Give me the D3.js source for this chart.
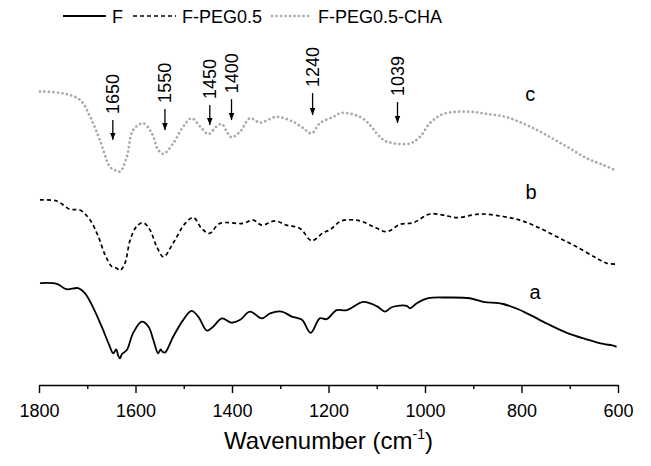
<!DOCTYPE html>
<html>
<head>
<meta charset="utf-8">
<script src="https://cdn.jsdelivr.net/npm/d3@7"></script>
<style>
  body { margin: 0; background: #fff; }
  text { font-family: "Liberation Sans", Arial, sans-serif; fill: #000; }
</style>
</head>
<body>
<script>
const w = 651;
const h = 466;

// spectra (wavenumber, transmittance in arbitrary units, curves offset)
const wnA = [1798,1763,1743,1719,1705,1687,1670,1656,1646,1640,1636,1632,1628,1618,1605,1587,1573,1563,1553,1548,1545,1539,1522,1501,1484,1470,1452,1439,1421,1401,1383,1363,1338,1321,1297,1276,1255,1237,1218,1204,1183,1162,1128,1100,1083,1069,1038,1031,1017,993,955,907,879,838,796,748,706,665,630,612,603];
const valA = [28.3,28.1,26.6,26.9,25.5,21.3,16.2,11.6,8.8,9.9,8.2,7.4,8.6,9.7,14.4,17.6,16.2,12.5,8.8,9.9,9.4,9.0,13.4,18.1,20.6,19.0,15.1,16.2,18.5,17.3,18.1,20.4,18.5,19.9,20.4,19.0,18.1,14.5,18.5,18.3,20.8,20.8,23.1,21.9,20.4,21.6,22.0,21.3,22.7,24.1,24.3,24.1,23.1,22.5,20.4,17.1,14.5,12.7,11.4,11.0,10.6];

const wnB = [1798,1763,1736,1715,1694,1677,1663,1649,1640,1632,1622,1611,1598,1584,1570,1556,1542,1522,1497,1480,1463,1447,1425,1377,1356,1338,1311,1287,1259,1235,1211,1197,1173,1135,1107,1079,1052,1024,990,962,934,886,838,803,769,727,686,644,623,603];
const valB = [51.4,51.1,48.8,48.6,45.8,41.2,36.1,32.9,32.5,31.8,33.8,40.3,44.0,45.1,43.1,38.4,35.6,39.4,44.9,46.5,43.5,42.1,44.9,44.9,45.8,44.4,45.6,44.4,43.5,40.1,42.3,43.1,45.6,45.6,44.0,42.6,44.6,45.1,47.5,47.2,46.5,47.5,46.8,45.8,44.0,41.2,38.4,35.2,33.8,33.6];

const wnC = [1798,1750,1715,1694,1674,1653,1643,1632,1618,1605,1584,1566,1553,1542,1522,1501,1484,1466,1449,1432,1421,1411,1401,1383,1363,1342,1307,1273,1252,1235,1218,1190,1173,1135,1114,1097,1079,1031,1010,990,962,907,872,831,789,748,706,665,630,606];
const valC = [81.5,81.0,79.2,74.5,68.1,60.6,59.7,59.3,63.4,70.8,72.7,69.9,65.3,64.2,67.1,71.8,74.1,71.8,69.7,71.8,72.5,70.4,68.8,70.4,74.1,72.9,74.5,73.1,71.3,69.9,72.7,74.5,75.6,74.5,72.2,69.4,67.6,67.1,69.0,72.7,75.3,75.9,75.3,74.4,72.2,69.4,66.2,63.0,61.1,59.7];

const seriesNames = ["F", "F-PEG0.5", "F-PEG0.5-CHA"];
const curveTags = ["a", "b", "c"];

// peak annotations on curve c
const peakLabels = ["1650", "1550", "1450", "1400", "1240", "1039"];
const peakWn = [1647, 1539, 1446, 1401, 1233, 1057];
const arrowTop = [73.6, 76.7, 77.8, 79.4, 81.1, 78.6];
const arrowBottom = [68.1, 70.8, 72.2, 73.6, 75.0, 72.8];

const xTicks = [1800, 1700, 1600, 1500, 1400, 1300, 1200, 1100, 1000, 900, 800, 700, 600];

const x = d3.scaleLinear().domain([1800, 600]).range([39, 618]);
const y = d3.scaleLinear().domain([0, 100]).range([385, 25]);

const svg = d3.select("body").append("svg")
    .attr("width", w)
    .attr("height", h);

svg.append("defs").append("marker")
    .attr("id", "arrow")
    .attr("viewBox", "0 0 10 10")
    .attr("refX", 10)
    .attr("refY", 5)
    .attr("markerWidth", 7)
    .attr("markerHeight", 7)
    .attr("markerUnits", "userSpaceOnUse")
    .attr("orient", "auto")
    .append("path")
    .attr("d", "M0,1 L10,5 L0,9 Z")
    .attr("fill", "#000");

const styles = [
    { stroke: "#000", width: 1.8, dash: null, cap: "butt" },
    { stroke: "#000", width: 1.7, dash: "4,3", cap: "butt" },
    { stroke: "#aaa", width: 2.7, dash: "0.1,4.4", cap: "round" }
];

const data = [
    wnA.map((d, i) => [d, valA[i]]),
    wnB.map((d, i) => [d, valB[i]]),
    wnC.map((d, i) => [d, valC[i]])
];

const line = d3.line()
    .x(d => x(d[0]))
    .y(d => y(d[1]))
    .curve(d3.curveCatmullRom.alpha(0.5));

svg.append("g")
    .selectAll("path")
    .data(data)
    .enter()
    .append("path")
    .attr("d", line)
    .attr("fill", "none")
    .attr("stroke", (d, i) => styles[i].stroke)
    .attr("stroke-width", (d, i) => styles[i].width)
    .attr("stroke-dasharray", (d, i) => styles[i].dash)
    .attr("stroke-linecap", (d, i) => styles[i].cap)
    .attr("stroke-linejoin", "round");

// curve letters
const tagPos = [[772, 23.8], [780, 51.8], [782, 79.0]];
svg.append("g")
    .selectAll("text")
    .data(curveTags)
    .enter()
    .append("text")
    .attr("x", (d, i) => x(tagPos[i][0]))
    .attr("y", (d, i) => y(tagPos[i][1]))
    .attr("text-anchor", "middle")
    .attr("font-size", 20)
    .text(d => d);

// arrows + rotated labels
const ann = svg.append("g");
peakLabels.forEach((lab, i) => {
    const px = x(peakWn[i]);
    ann.append("line")
        .attr("x1", px).attr("x2", px)
        .attr("y1", y(arrowTop[i]))
        .attr("y2", y(arrowBottom[i]))
        .attr("stroke", "#000")
        .attr("stroke-width", 1.3)
        .attr("marker-end", "url(#arrow)");
    ann.append("text")
        .attr("transform", `translate(${px + 6.5}, ${y(arrowTop[i]) - 6}) rotate(-90)`)
        .attr("font-size", 18)
        .text(lab);
});

// x axis
const xAxis = d3.axisBottom(x)
    .tickValues(xTicks)
    .tickSizeOuter(0)
    .tickFormat(d => d % 200 === 0 ? d : "");

const gx = svg.append("g")
    .attr("transform", `translate(0, ${385})`)
    .call(xAxis);
gx.select(".domain").attr("stroke", "#000").attr("stroke-width", 1.6);
gx.selectAll(".tick line")
    .attr("stroke", "#000")
    .attr("stroke-width", 1.4)
    .attr("y2", d => d % 200 === 0 ? 8 : 4);
gx.selectAll(".tick text")
    .attr("dy", 0)
    .attr("y", 32)
    .attr("font-size", 18)
    .attr("font-family", "Liberation Sans, Arial, sans-serif")
    .attr("fill", "#000");

const title = svg.append("text")
    .attr("x", (39 + 618) / 2)
    .attr("y", 449)
    .attr("text-anchor", "middle")
    .attr("font-size", 24);
title.append("tspan").text("Wavenumber (cm");
title.append("tspan").attr("font-size", 14).attr("dy", -10).text("-1");
title.append("tspan").attr("dy", 10).text(")");

// legend
const legX = [63, 133, 272];
const legLen = [43, 43, 40];
const legend = svg.append("g");
seriesNames.forEach((name, i) => {
    legend.append("line")
        .attr("x1", legX[i]).attr("x2", legX[i] + legLen[i])
        .attr("y1", 16).attr("y2", 16)
        .attr("stroke", styles[i].stroke)
        .attr("stroke-width", styles[i].width)
        .attr("stroke-dasharray", styles[i].dash)
        .attr("stroke-linecap", styles[i].cap);
    legend.append("text")
        .attr("x", legX[i] + legLen[i] + 6)
        .attr("y", 23)
        .attr("font-size", 18)
        .text(name);
});
</script>
</body>
</html>
